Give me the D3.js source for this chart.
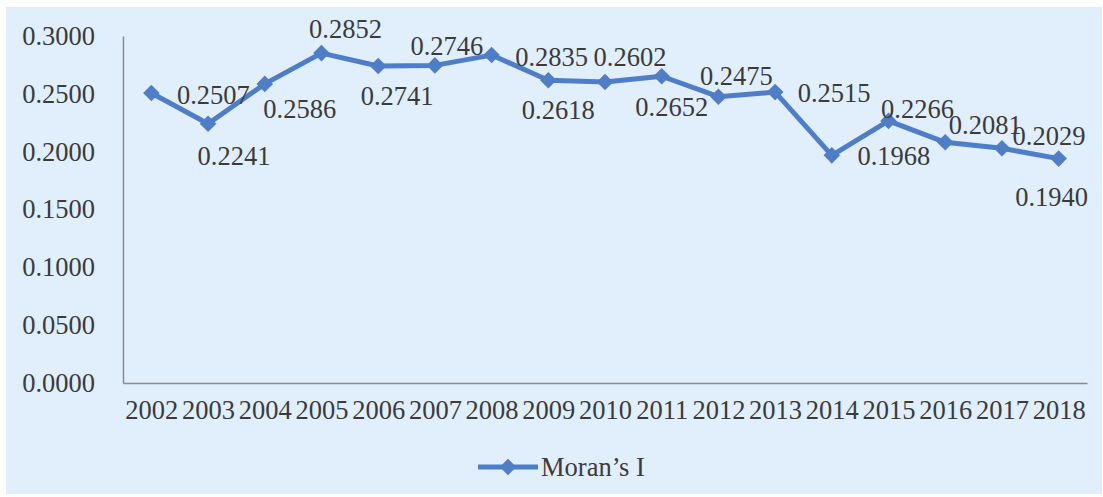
<!DOCTYPE html>
<html>
<head>
<meta charset="utf-8">
<script src="https://cdn.jsdelivr.net/npm/d3@7"></script>
<style>
  html, body { margin: 0; padding: 0; background: #ffffff; }
  svg { display: block; }
  text { font-family: "Liberation Serif", "Times New Roman", serif; fill: #3b3b3b; }
</style>
</head>
<body>
<svg id="chart" width="1103" height="497"></svg>
<script>
// Moran's I by year
const years = ["2002","2003","2004","2005","2006","2007","2008","2009","2010",
               "2011","2012","2013","2014","2015","2016","2017","2018"];
const moransI = [0.2507, 0.2241, 0.2586, 0.2852, 0.2741, 0.2746, 0.2835, 0.2618, 0.2602,
                 0.2652, 0.2475, 0.2515, 0.1968, 0.2266, 0.2081, 0.2029, 0.1940];
const yTicks = [0, 0.05, 0.10, 0.15, 0.20, 0.25, 0.30];
const seriesName = "Moran\u2019s I";

// Where each value label sits relative to its marker (text centre offset, px)
const labelNudge = [
  [62, 2], [26, 32], [35, 25], [24, -24], [19, 30], [12, -20], [60, 2], [10, 30], [25, -25],
  [10, 30], [18, -21], [59, 1], [62, 0], [29, -12], [40, -18], [47, -13], [-7, 38]
];

const svg = d3.select("#chart");
const color = "#4f7ec9";
const fontSize = 26.5;
const fontFamily = "'Liberation Serif', 'Times New Roman', serif";

// chart panel
svg.append("rect")
  .attr("x", 6).attr("y", 7).attr("width", 1096).attr("height", 487)
  .attr("fill", "#e1eefb");

const plot = { left: 123, right: 1087, top: 36, bottom: 383 };

const x = d3.scalePoint().domain(years).range([plot.left, plot.right]).padding(0.5);
const y = d3.scaleLinear().domain([0, 0.3]).range([plot.bottom, plot.top]);

// y axis
const yAxis = svg.append("g")
  .attr("transform", `translate(${plot.left},0)`)
  .call(d3.axisLeft(y).tickValues(yTicks).tickFormat(d3.format(".4f")).tickSize(0).tickPadding(28));
yAxis.attr("font-family", fontFamily);
yAxis.select(".domain").attr("stroke", "#878c93").attr("stroke-width", 1.5);
yAxis.selectAll("text").style("font-size", fontSize + "px").attr("fill", "#3b3b3b");

// x axis
const xAxis = svg.append("g")
  .attr("transform", `translate(0,${plot.bottom})`)
  .call(d3.axisBottom(x).tickSize(0).tickPadding(17));
xAxis.attr("font-family", fontFamily);
xAxis.select(".domain").attr("stroke", "#878c93").attr("stroke-width", 1.5);
xAxis.selectAll("text").style("font-size", fontSize + "px").attr("fill", "#3b3b3b");

// series line
const line = d3.line().x((d, i) => x(years[i])).y(d => y(d));
svg.append("path")
  .datum(moransI)
  .attr("fill", "none")
  .attr("stroke", color)
  .attr("stroke-width", 5)
  .attr("stroke-linejoin", "round")
  .attr("d", line);

// diamond markers
const diamond = d3.symbol().type(d3.symbolDiamond2).size(175);
svg.append("g").selectAll("path")
  .data(moransI)
  .join("path")
  .attr("d", diamond)
  .attr("fill", color)
  .attr("transform", (d, i) => `translate(${x(years[i])},${y(d)})`);

// value labels
svg.append("g").selectAll("text")
  .data(moransI)
  .join("text")
  .attr("x", (d, i) => x(years[i]) + labelNudge[i][0])
  .attr("y", (d, i) => y(d) + labelNudge[i][1])
  .attr("dy", "0.35em")
  .attr("text-anchor", "middle")
  .style("font-size", fontSize + "px")
  .text(d => d3.format(".4f")(d));

// legend
const legend = svg.append("g").attr("transform", "translate(478,467)");
legend.append("line")
  .attr("x1", 0).attr("x2", 60).attr("y1", 0).attr("y2", 0)
  .attr("stroke", color).attr("stroke-width", 5);
legend.append("path")
  .attr("d", diamond)
  .attr("fill", color)
  .attr("transform", "translate(30,0)");
legend.append("text")
  .attr("x", 63).attr("y", 0).attr("dy", "0.35em")
  .style("font-size", fontSize + "px")
  .text(seriesName);
</script>
</body>
</html>
